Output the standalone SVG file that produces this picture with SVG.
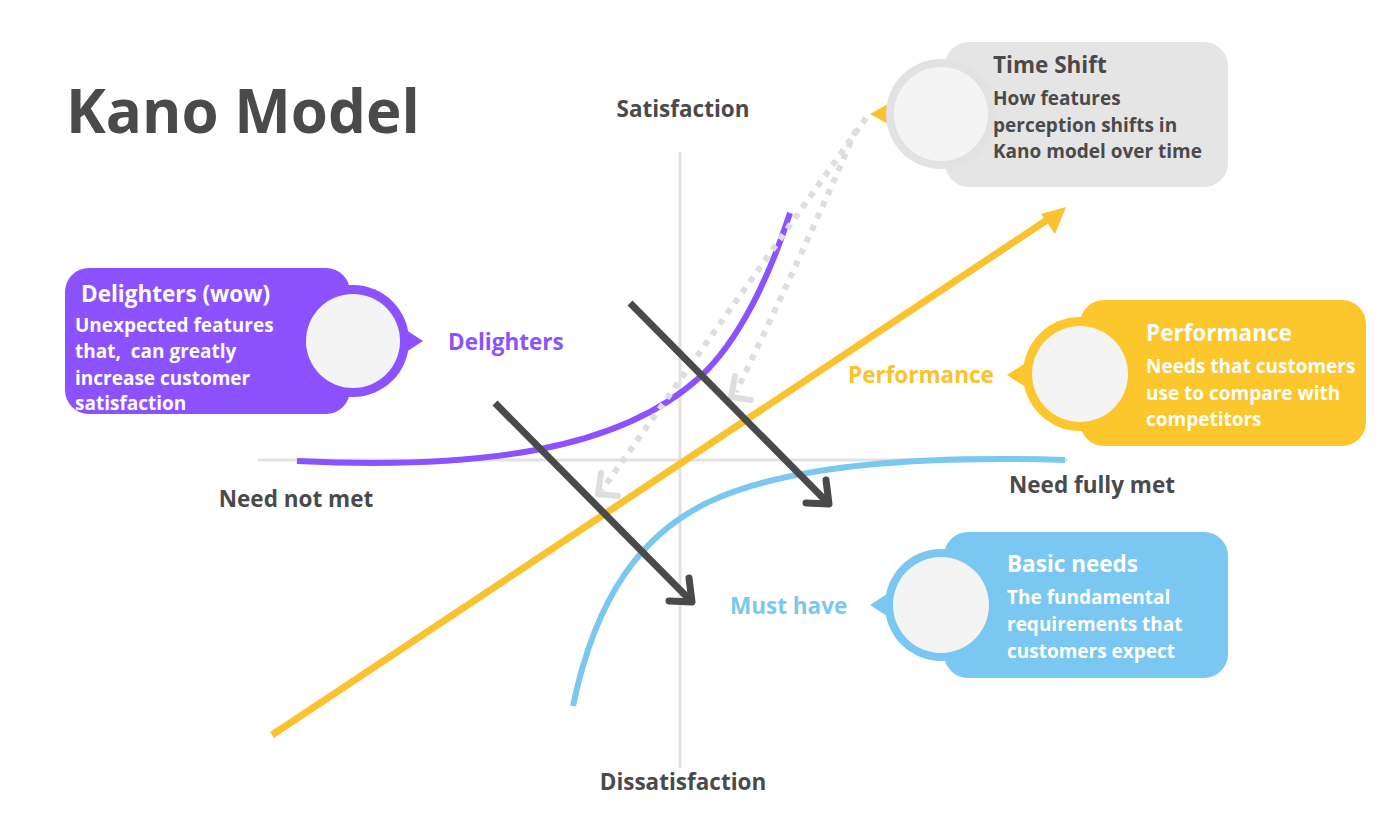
<svg xmlns="http://www.w3.org/2000/svg" width="1400" height="826" viewBox="0 0 1400 826">
<style>
text{font-family:"Open Sans","Liberation Sans",sans-serif;font-weight:700;white-space:pre}
.dark{fill:#4a4a4a}
.lbl{font-size:22.5px}
.title{font-size:22.5px}
.body{font-size:19px}
.wt{fill:#ffffff}
.axis{stroke:#e2e2e2;stroke-width:3;fill:none}
.dot{stroke:#dedede;stroke-width:6;fill:none;stroke-dasharray:6 7}
.dothead{stroke:#dedede;stroke-width:6;fill:none;stroke-linecap:round;stroke-linejoin:round}
.darr{stroke:#4a4a4a;stroke-width:7;fill:none}
.dhead{stroke:#4a4a4a;stroke-width:7;fill:none;stroke-linecap:round;stroke-linejoin:round}
.inner{fill:#f4f4f4}
</style>
<rect width="1400" height="826" fill="#ffffff"/>
<text x="66" y="133" class="dark" style="font-size:60px">Kano Model</text>

<g id="axes">
<line class="axis" x1="258" y1="460" x2="1068" y2="460"/>
<line class="axis" x1="680" y1="152" x2="680" y2="768"/>
<text x="683" y="117" text-anchor="middle" class="dark lbl">Satisfaction</text>
<text x="683" y="790" text-anchor="middle" class="dark lbl">Dissatisfaction</text>
<text x="296" y="507" text-anchor="middle" class="dark lbl">Need not met</text>
<text x="1092" y="493" text-anchor="middle" class="dark lbl">Need fully met</text>
</g>

<g id="connectors">
<path d="M297,461 C480,470 620,450 700,377 C740,340 770,275 790,213" stroke="#8c52ff" stroke-width="6" fill="none"/>
<path d="M573,706 C595,600 640,530 720,497 C790,468 900,455 1065,460" stroke="#7ac8f1" stroke-width="6" fill="none"/>
<line x1="272" y1="735" x2="1050" y2="218" stroke="#f9c22e" stroke-width="7"/>
<polygon points="1066,207 1041,214 1055,234" fill="#f9c22e"/>
<path class="dot" d="M866,118 L602,490"/>
<polyline class="dothead" points="601,473 598,494 618,496"/>
<path class="dot" d="M856,130 Q800,260 736,392"/>
<polyline class="dothead" points="735,376 731,397 751,400"/>
<line class="darr" x1="495" y1="403" x2="690" y2="600"/>
<polyline class="dhead" points="689,578 692,602 669,601"/>
<line class="darr" x1="630" y1="303" x2="827" y2="502"/>
<polyline class="dhead" points="826,480 829,504 806,503"/>
</g>

<g id="delighters-label"><text x="448" y="350" class="lbl" fill="#8c52ff">Delighters</text></g>
<g id="performance-label"><text x="848" y="383" class="lbl" fill="#f9c22e">Performance</text></g>
<g id="musthave-label"><text x="730" y="614" class="lbl" fill="#7ac8f1">Must have</text></g>

<g id="time-shift">
<polygon points="870,114 888,104 888,124" fill="#f9c22e"/>
<rect x="945" y="42" width="283" height="145" rx="24" fill="#e6e5e6"/>
<circle cx="941" cy="114" r="55" fill="#e2e2e2"/>
<circle cx="941" cy="114" r="47" class="inner"/>
<text x="993" y="73" class="dark title">Time Shift</text>
<text x="993" y="105" class="dark body">How features</text>
<text x="993" y="132" class="dark body">perception shifts in</text>
<text x="993" y="158" class="dark body">Kano model over time</text>
</g>

<g id="delighters">
<rect x="65" y="268" width="285" height="146" rx="24" fill="#8c52ff"/>
<polygon points="400,326 423,341 400,356" fill="#8c52ff"/>
<circle cx="353" cy="341" r="56" fill="#8c52ff"/>
<circle cx="353" cy="341" r="47" class="inner"/>
<text x="81" y="302" class="wt title">Delighters (wow)</text>
<text x="75" y="332" class="wt body">Unexpected features</text>
<text x="75" y="358" class="wt body" xml:space="preserve">that,  can greatly</text>
<text x="75" y="385" class="wt body">increase customer</text>
<text x="75" y="410" class="wt body">satisfaction</text>
</g>

<g id="performance">
<rect x="1080" y="300" width="286" height="146" rx="24" fill="#fcc62d"/>
<polygon points="1030,360 1007,375 1030,390" fill="#fcc62d"/>
<circle cx="1080" cy="374" r="57" fill="#fcc62d"/>
<circle cx="1080" cy="374" r="48" class="inner"/>
<text x="1146" y="341" class="wt title">Performance</text>
<text x="1146" y="373" class="wt body">Needs that customers</text>
<text x="1146" y="400" class="wt body">use to compare with</text>
<text x="1146" y="426" class="wt body">competitors</text>
</g>

<g id="basic-needs">
<rect x="944" y="532" width="284" height="146" rx="24" fill="#7ac8f1"/>
<polygon points="893,590 870,605 893,620" fill="#7ac8f1"/>
<circle cx="941" cy="605" r="56" fill="#7ac8f1"/>
<circle cx="941" cy="605" r="48" class="inner"/>
<text x="1007" y="572" class="wt title">Basic needs</text>
<text x="1007" y="604" class="wt body">The fundamental</text>
<text x="1007" y="631" class="wt body">requirements that</text>
<text x="1007" y="658" class="wt body">customers expect</text>
</g>
</svg>
